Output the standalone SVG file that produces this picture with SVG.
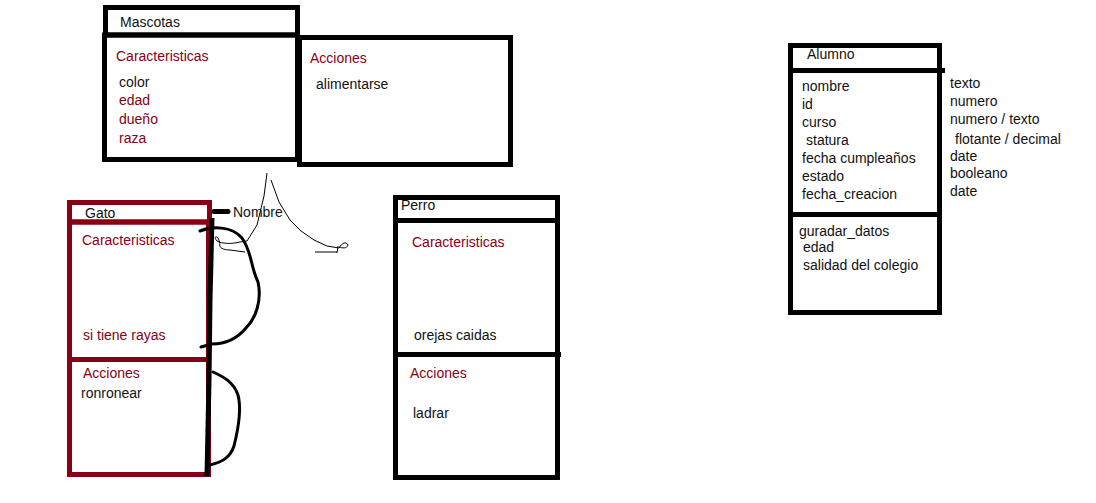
<svg xmlns="http://www.w3.org/2000/svg" width="1096" height="503" viewBox="0 0 1096 503">
<style>
text{font-family:"Liberation Sans",Arial,sans-serif;font-size:14px;fill:#111}
.r{fill:#880015}
.bk{fill:none;stroke:#000;stroke-width:5}
.mr{fill:none;stroke:#880015;stroke-width:5}
.pen{fill:none;stroke:#000;stroke-width:3;stroke-linecap:round;stroke-linejoin:round}
.thin{fill:none;stroke:#000;stroke-width:1}
</style>
<rect width="1096" height="503" fill="#fff"/>
<g id="mascotas">
<rect class="bk" x="105.5" y="7.5" width="192" height="27.5"/>
<rect class="bk" x="104.5" y="35" width="193" height="124.5"/>
<rect class="bk" x="299.5" y="37.5" width="211" height="127"/>
<text x="120" y="27">Mascotas</text>
<text class="r" x="116" y="61">Caracteristicas</text>
<text x="119" y="87">color</text>
<text class="r" x="119" y="105">edad</text>
<text class="r" x="119" y="124">dueño</text>
<text class="r" x="119" y="143">raza</text>
<text class="r" x="310" y="63">Acciones</text>
<text x="316" y="89">alimentarse</text>
</g>
<g id="gato">
<rect class="mr" x="69.5" y="202.5" width="140" height="19.5"/>
<rect class="mr" x="69.5" y="222" width="139" height="137.5"/>
<rect class="mr" x="69.5" y="359.5" width="139" height="115"/>
<text x="85" y="218">Gato</text>
<text class="r" x="82" y="245">Caracteristicas</text>
<text class="r" x="83" y="340">si tiene rayas</text>
<text class="r" x="83" y="378">Acciones</text>
<text x="81" y="398">ronronear</text>
</g>
<g id="perro">
<rect class="bk" x="395.5" y="197.5" width="162" height="23"/>
<rect class="bk" x="395.5" y="220.5" width="162" height="257"/>
<line class="bk" x1="395" y1="354.5" x2="561" y2="354.5"/>
<text x="401" y="210">Perro</text>
<text class="r" x="412" y="247">Caracteristicas</text>
<text x="414" y="340">orejas caidas</text>
<text class="r" x="410" y="378">Acciones</text>
<text x="413" y="418">ladrar</text>
</g>
<g id="alumno">
<rect class="bk" x="790.5" y="45.5" width="149" height="25"/>
<line class="bk" x1="790" y1="70.5" x2="945" y2="70.5"/>
<rect class="bk" x="790.5" y="70.5" width="149" height="242"/>
<line class="bk" x1="790" y1="214.5" x2="940" y2="214.5"/>
<text x="807" y="59">Alumno</text>
<text x="802" y="91">nombre</text>
<text x="802" y="109">id</text>
<text x="802" y="127">curso</text>
<text x="806" y="145">statura</text>
<text x="802" y="163">fecha cumpleaños</text>
<text x="802" y="181">estado</text>
<text x="802" y="199">fecha_creacion</text>
<text x="799" y="236">guradar_datos</text>
<text x="803" y="252">edad</text>
<text x="803" y="270">salidad del colegio</text>
</g>
<g id="tipos">
<text x="950" y="88">texto</text>
<text x="950" y="106">numero</text>
<text x="950" y="124">numero / texto</text>
<text x="955" y="144">flotante / decimal</text>
<text x="950" y="161">date</text>
<text x="950" y="178">booleano</text>
<text x="950" y="196">date</text>
</g>
<g id="nombre">
<text x="233" y="217">Nombre</text>
</g>
<g id="connectors">
<line x1="214" y1="211.5" x2="228" y2="211.5" stroke="#000" stroke-width="5" stroke-linecap="round"/>
<polyline points="212,218 210,300 209,380 207,476" fill="none" stroke="#000" stroke-width="5"/>
<path class="pen" d="M200,231 C212,226 232,226 242,238 C252,252 250,265 258,282 C262,300 256,318 246,328 C236,340 224,344 212,344 L201,347"/>
<path class="pen" d="M213,372 C222,376 234,382 238,395 C242,410 238,430 234,446 C230,458 222,462 210,465"/>
<path class="thin" d="M267,173 L264,196 L257,225 L247,241 L240,242 C232,244 222,244 217,241 C214,238 215,235 218,238 L220,243 C218,248 224,250 230,250 L245,252"/>
<path class="thin" d="M271,180 L279,202 L290,220 L301,231 L314,240 L327,246 L339,248 C342,243 346,241 348,245 C347,249 342,248 339,247 M315,252 L337,252 M338,246 L337,253"/>
</g>
</svg>
